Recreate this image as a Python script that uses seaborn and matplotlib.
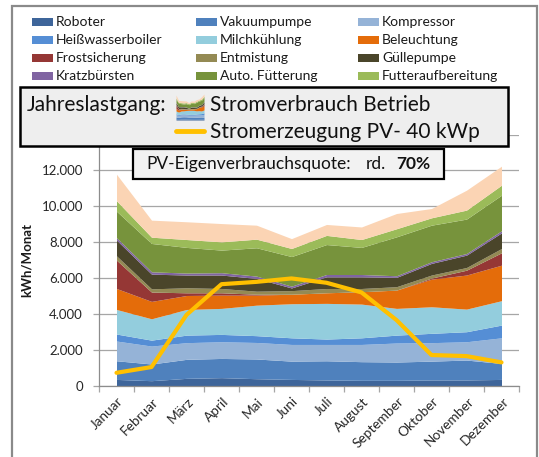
import matplotlib
matplotlib.use("Agg")
import matplotlib.pyplot as plt
import matplotlib.transforms as mtransforms
from matplotlib.patches import Rectangle
from matplotlib.lines import Line2D
import numpy as np
import pandas as pd
import seaborn as sns

# ---------------- data (kWh per month) ----------------
months = ["Januar", "Februar", "März", "April", "Mai", "Juni", "Juli",
          "August", "September", "Oktober", "November", "Dezember"]

roboter            = [350, 280, 410, 450, 390, 350, 320, 300, 300, 320, 320, 350]
vakuumpumpe        = [1040, 930, 1060, 1070, 1100, 1020, 1070, 1040, 1020, 1050, 1110, 890]
kompressor         = [1100, 1000, 930, 930, 920, 930, 910, 960, 1060, 1030, 1020, 1430]
heisswasserboiler  = [390, 330, 420, 410, 380, 370, 300, 370, 440, 520, 560, 710]
milchkuehlung      = [1370, 1190, 1430, 1450, 1700, 1900, 1990, 1880, 1490, 1480, 1260, 1360]
beleuchtung        = [1170, 970, 780, 740, 560, 530, 590, 690, 1020, 1540, 1900, 1980]
frostsicherung     = [1580, 520, 150, 130, 50, 0, 0, 0, 0, 60, 270, 690]
entmistung         = [240, 180, 280, 240, 170, 200, 240, 180, 190, 170, 150, 240]
guellepumpe        = [880, 820, 710, 750, 710, 150, 650, 650, 520, 650, 690, 870]
kratzbuersten      = [130, 130, 110, 130, 130, 100, 130, 130, 90, 90, 90, 120]
auto_fuetterung    = [1480, 1580, 1430, 1260, 1580, 1650, 1670, 1510, 2170, 2040, 1920, 1980]
futteraufbereitung = [580, 350, 440, 460, 480, 450, 510, 440, 450, 410, 500, 560]
sonstiges          = [1480, 950, 990, 1020, 780, 550, 610, 700, 850, 520, 1110, 1060]  # unlabeled top layer

pv_erzeugung = [720, 1040, 3950, 5660, 5790, 5980, 5740, 5200, 3660, 1710, 1650, 1300]

series_names = ["Roboter", "Vakuumpumpe", "Kompressor", "Heißwasserboiler",
                "Milchkühlung", "Beleuchtung", "Frostsicherung", "Entmistung",
                "Güllepumpe", "Kratzbürsten", "Auto. Fütterung", "Futteraufbereitung"]
series_values = [roboter, vakuumpumpe, kompressor, heisswasserboiler, milchkuehlung,
                 beleuchtung, frostsicherung, entmistung, guellepumpe, kratzbuersten,
                 auto_fuetterung, futteraufbereitung]
series_colors = ["#3E659A", "#4F81BD", "#95B3D7", "#558ED5", "#93CDDD", "#E46C0A",
                 "#953735", "#948A54", "#4A452A", "#8064A2", "#77933C", "#9BBB59"]
sonstiges_color = "#FBD4B4"
pv_color = "#FFC000"

y_ticks = [0, 2000, 4000, 6000, 8000, 10000, 12000, 14000]

# ---------------- figure ----------------
sns.set_theme(style="white")
plt.rcParams['font.family'] = ['Lato', 'DejaVu Sans']

W, H = 539, 457
fig = plt.figure(figsize=(W / 100, H / 100), dpi=100)
fig.patch.set_facecolor("white")


def fx(px):
    return px / W


def fy(py):
    return 1 - py / H


AX_L, AX_R, AX_B, AX_T = 99, 519, 385.7, 134.6
ax = fig.add_axes([fx(AX_L), fy(AX_B), fx(AX_R) - fx(AX_L), fy(AX_T) - fy(AX_B)], zorder=0)

x = np.arange(len(months))
ax.stackplot(x, *series_values, sonstiges,
             colors=series_colors + [sonstiges_color], linewidth=0, zorder=2)

df_pv = pd.DataFrame({"x": x, "pv": pv_erzeugung})
sns.lineplot(data=df_pv, x="x", y="pv", color=pv_color, linewidth=3.0, ax=ax, zorder=3)

ax.set_xlim(-0.5, len(months) - 0.5)
ax.set_ylim(y_ticks[0], y_ticks[-1])
ax.set_xlabel("")

grid_col = "#A6A6A6"
ax.set_yticks(y_ticks)
ax.set_yticklabels([f"{v:,}".replace(",", ".") for v in y_ticks])
ax.yaxis.grid(True, color=grid_col, linewidth=0.9)
ax.xaxis.grid(False)
ax.set_axisbelow(True)
for s in ["top", "right"]:
    ax.spines[s].set_visible(False)
for s in ["left", "bottom"]:
    ax.spines[s].set_color("#8C8C8C")
    ax.spines[s].set_linewidth(0.9)

ax.tick_params(axis="y", direction="out", length=4.5, width=0.9, color=grid_col,
               pad=7, labelsize=9.5, labelcolor="#262626", left=True)

ax.set_xticks(np.arange(-0.5, len(months), 1.0))
ax.set_xticklabels([])
ax.tick_params(axis="x", which="major", direction="out", length=4.5, width=0.9,
               color=grid_col, bottom=True)
ax.set_xticks(x, minor=True)
ax.set_xticklabels(months, minor=True, rotation=45, ha="right",
                   rotation_mode="anchor", fontsize=9.8, color="#262626")
ax.tick_params(axis="x", which="minor", length=0, pad=10, bottom=True)
offset = mtransforms.ScaledTranslation(5 / 100, 0, fig.dpi_scale_trans)
for lab in ax.get_xticklabels(minor=True):
    lab.set_verticalalignment("center")
    lab.set_transform(lab.get_transform() + offset)

ax.set_ylabel("kWh/Monat", fontsize=9.5, fontweight="bold", color="#1a1a1a")
ax.yaxis.set_label_coords((33 - AX_L) / (AX_R - AX_L), 0.5)

# ---------------- outer frame ----------------
fig.patches.append(Rectangle((fx(12), fy(470)), fx(537) - fx(12), fy(6) - fy(470),
                             transform=fig.transFigure, facecolor="none",
                             edgecolor="#8A8A8A", linewidth=1.6, zorder=1))

# ---------------- top legend ----------------
col_x = [32, 196, 358]
row_y = [22, 40, 58, 76]
for i, (name, col) in enumerate(zip(series_names, series_colors)):
    r, c = divmod(i, 3)
    sx, sy = col_x[c], row_y[r]
    fig.patches.append(Rectangle((fx(sx), fy(sy + 4)), fx(21), 8 / H,
                                 transform=fig.transFigure, facecolor=col,
                                 edgecolor="none", zorder=2))
    fig.text(fx(sx + 24), fy(sy), name, fontsize=10, va="center", ha="left",
             color="#1a1a1a", zorder=3)

# ---------------- Jahreslastgang box ----------------
fig.patches.append(Rectangle((fx(20), fy(146)), fx(508) - fx(20), fy(87) - fy(146),
                             transform=fig.transFigure, facecolor="#EEEEEE",
                             edgecolor="black", linewidth=1.8, zorder=2))
fig.text(fx(27), fy(105), "Jahreslastgang:", fontsize=15, va="center", ha="left",
         color="#111111", zorder=4)
icon = fig.add_axes([fx(176), fy(120), fx(204) - fx(176), fy(94) - fy(120)], zorder=3)
icon.stackplot(x, *series_values, sonstiges,
               colors=series_colors + [sonstiges_color], linewidth=0)
icon.set_xlim(0, len(months) - 1)
icon.set_ylim(0, max(np.sum(series_values, axis=0) + np.array(sonstiges)))
icon.axis("off")
fig.lines.append(Line2D([fx(176), fx(204)], [fy(131), fy(131)], transform=fig.transFigure,
                        color=pv_color, linewidth=3.5, zorder=3))
fig.text(fx(210), fy(105), "Stromverbrauch Betrieb", fontsize=15, va="center",
         ha="left", color="#111111", zorder=4)
fig.text(fx(210), fy(132), "Stromerzeugung PV- 40 kWp", fontsize=15, va="center",
         ha="left", color="#111111", zorder=4)

# ---------------- PV-Eigenverbrauchsquote box ----------------
fig.patches.append(Rectangle((fx(133), fy(179)), fx(444) - fx(133), fy(149) - fy(179),
                             transform=fig.transFigure, facecolor="#F2F2F2",
                             edgecolor="black", linewidth=1.6, zorder=2))
fig.text(fx(146), fy(164), "PV-Eigenverbrauchsquote:", fontsize=12.5, va="center",
         ha="left", color="#111111", zorder=4)
fig.text(fx(366), fy(164), "rd.", fontsize=12.5, va="center",
         ha="left", color="#111111", zorder=4)
fig.text(fx(396), fy(164), "70%", fontsize=12.5, fontweight="bold", va="center",
         ha="left", color="#111111", zorder=4)

fig.savefig("out.png", dpi=100, facecolor="white")
